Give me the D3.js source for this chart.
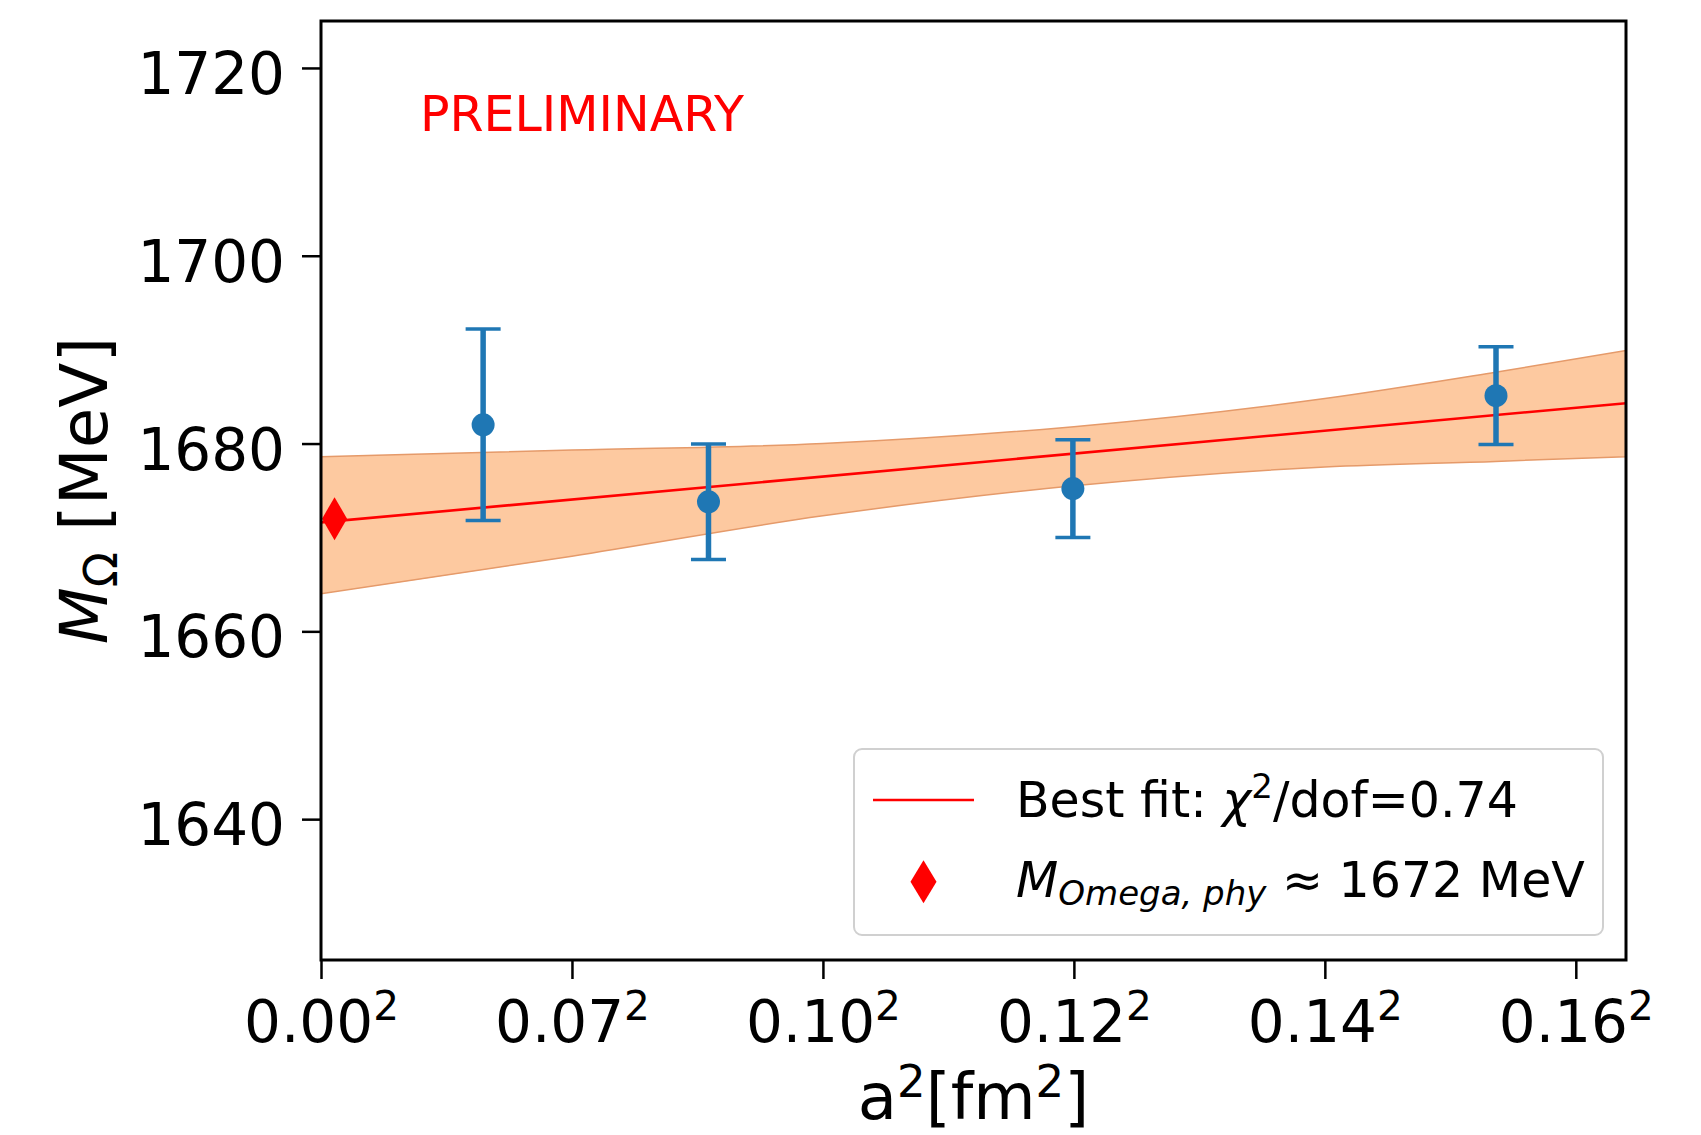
<!doctype html>
<html>
<head>
<meta charset="UTF-8">
<script src="https://cdnjs.cloudflare.com/ajax/libs/d3/7.8.5/d3.min.js"></script>
<style>
  body { margin: 0; background: #fff; }
  text { font-family: 'DejaVu Sans', sans-serif; }
</style>
</head>
<body>
<svg id="chart" width="1701" height="1135"></svg>
<script>

// lattice points: a^2 [fm^2], mass [MeV], error
var a2 = [0.00323, 0.00772, 0.01498, 0.02341];
var mass = [1682.0, 1673.8, 1675.2, 1685.1];
var massErr = [10.2, 6.15, 5.2, 5.2];

// best fit line (end points)
var fitA2 = [0, 0.026];
var fitMass = [1671.6, 1684.3];

// fit error band, read at a few a^2 values
var bandA2 = [0, 0.005, 0.010, 0.015, 0.020, 0.0234, 0.026];
var bandLow = [1664.0, 1668.0, 1672.3, 1675.5, 1677.5, 1678.1, 1678.6];
var bandHigh = [1678.6, 1679.3, 1680.0, 1681.8, 1684.8, 1687.6, 1689.9];

// physical point
var physA2 = [0.00027];
var physMass = [1672];

// ticks
var yTicks = [1640, 1660, 1680, 1700, 1720];
var xTicks = [0, 0.005, 0.010, 0.015, 0.020, 0.025];
var xTickLabels = ["0.00", "0.07", "0.10", "0.12", "0.14", "0.16"];

var plot = { left: 321, right: 1626, top: 21, bottom: 960 };

var svg = d3.select("#chart");

var x = d3.scaleLinear().domain([0, 0.026]).range([plot.left, plot.right]);
var y = d3.scaleLinear().domain([1625, 1725]).range([plot.bottom, plot.top]);

svg.append("clipPath").attr("id", "clip")
  .append("rect")
  .attr("x", plot.left).attr("y", plot.top)
  .attr("width", plot.right - plot.left).attr("height", plot.bottom - plot.top);

var g = svg.append("g").attr("clip-path", "url(#clip)");

// band
var area = d3.area()
  .x((d, i) => x(bandA2[i]))
  .y0((d, i) => y(bandLow[i]))
  .y1((d, i) => y(bandHigh[i]))
  .curve(d3.curveMonotoneX);

g.append("path")
  .datum(bandA2)
  .attr("d", area)
  .attr("fill", "#fdc9a0")
  .attr("stroke", "#e59a6a")
  .attr("stroke-width", 1.5);

// fit line
var line = d3.line()
  .x((d, i) => x(fitA2[i]))
  .y((d, i) => y(fitMass[i]));

g.append("path")
  .datum(fitA2)
  .attr("d", line)
  .attr("fill", "none")
  .attr("stroke", "#ff0000")
  .attr("stroke-width", 2.6);

// error bars
var pts = g.append("g").selectAll("g")
  .data(a2)
  .enter()
  .append("g");

pts.append("line")
  .attr("x1", (d) => x(d)).attr("x2", (d) => x(d))
  .attr("y1", (d, i) => y(mass[i] - massErr[i]))
  .attr("y2", (d, i) => y(mass[i] + massErr[i]))
  .attr("stroke", "#1f77b4").attr("stroke-width", 5.5);

[-1, 1].forEach(function(s) {
  pts.append("line")
    .attr("x1", (d) => x(d) - 17.5).attr("x2", (d) => x(d) + 17.5)
    .attr("y1", (d, i) => y(mass[i] + s * massErr[i]))
    .attr("y2", (d, i) => y(mass[i] + s * massErr[i]))
    .attr("stroke", "#1f77b4").attr("stroke-width", 3.5);
});

pts.append("circle")
  .attr("cx", (d) => x(d))
  .attr("cy", (d, i) => y(mass[i]))
  .attr("r", 11.5)
  .attr("fill", "#1f77b4");

// thin diamond marker
function diamond(cx, cy, hw, hh) {
  return "M" + cx + "," + (cy - hh) + "L" + (cx + hw) + "," + cy +
    "L" + cx + "," + (cy + hh) + "L" + (cx - hw) + "," + cy + "Z";
}

svg.append("g").selectAll("path")
  .data(physA2)
  .enter()
  .append("path")
  .attr("d", (d, i) => diamond(x(d), y(physMass[i]), 12.5, 21.5))
  .attr("fill", "#ff0000");

// axes
var xAxis = svg.append("g")
  .attr("transform", "translate(0," + plot.bottom + ")")
  .call(d3.axisBottom(x).tickValues(xTicks).tickSize(19).tickFormat((d, i) => xTickLabels[i]));

xAxis.select(".domain").remove();
xAxis.selectAll(".tick line").attr("stroke", "#000").attr("stroke-width", 2.5);
xAxis.selectAll(".tick text")
  .attr("y", 81.7).attr("dy", 0)
  .attr("fill", "#000")
  .style("font-size", "58px")
  .each(function(d, i) {
    var t = d3.select(this);
    t.text(null);
    t.append("tspan").text(xTickLabels[i]);
    t.append("tspan").attr("dy", -22).style("font-size", "40.6px").text("2");
  });

var yAxis = svg.append("g")
  .attr("transform", "translate(" + plot.left + ",0)")
  .call(d3.axisLeft(y).tickValues(yTicks).tickSize(19).tickPadding(17).tickFormat(d3.format("d")));

yAxis.select(".domain").remove();
yAxis.selectAll(".tick line").attr("stroke", "#000").attr("stroke-width", 2.5);
yAxis.selectAll(".tick text")
  .attr("dy", "0.44em")
  .attr("fill", "#000")
  .style("font-size", "58px");

// frame
svg.append("rect")
  .attr("x", plot.left).attr("y", plot.top)
  .attr("width", plot.right - plot.left).attr("height", plot.bottom - plot.top)
  .attr("fill", "none").attr("stroke", "#000").attr("stroke-width", 3);

// y label
var yl = svg.append("text")
  .attr("transform", "translate(107," + ((plot.top + plot.bottom) / 2) + ") rotate(-90)")
  .attr("text-anchor", "middle")
  .style("font-size", "66px");
yl.append("tspan").style("font-style", "italic").text("M");
yl.append("tspan").attr("dy", 10).style("font-size", "46px").text("Ω");
yl.append("tspan").attr("dy", -10).text(" [MeV]");

// x label
var xl = svg.append("text")
  .attr("x", (plot.left + plot.right) / 2)
  .attr("y", 1119)
  .attr("text-anchor", "middle")
  .style("font-size", "64px");
xl.append("tspan").text("a");
xl.append("tspan").attr("dy", -22).style("font-size", "45px").text("2");
xl.append("tspan").attr("dy", 22).text("[fm");
xl.append("tspan").attr("dy", -22).style("font-size", "45px").text("2");
xl.append("tspan").attr("dy", 22).text("]");

// preliminary mark
svg.append("text")
  .attr("x", 420).attr("y", 131)
  .attr("fill", "#ff0000")
  .style("font-size", "49px")
  .text("PRELIMINARY");

// legend
var leg = svg.append("g");
leg.append("rect")
  .attr("x", 854).attr("y", 749).attr("width", 749).attr("height", 186)
  .attr("rx", 8)
  .attr("fill", "#fff").attr("fill-opacity", 0.8)
  .attr("stroke", "#d0d0d0").attr("stroke-width", 2);

leg.append("line")
  .attr("x1", 873).attr("x2", 974).attr("y1", 800).attr("y2", 800)
  .attr("stroke", "#ff0000").attr("stroke-width", 2.6);

leg.append("path")
  .attr("d", diamond(923.5, 881.7, 13, 21.5))
  .attr("fill", "#ff0000");

var t1 = leg.append("text").attr("x", 1016).attr("y", 816.7).style("font-size", "49px");
t1.append("tspan").text("Best fit: ");
t1.append("tspan").style("font-style", "italic").text("χ");
t1.append("tspan").attr("dy", -19).style("font-size", "34px").text("2");
t1.append("tspan").attr("dy", 19).text("/dof=0.74");

var t2 = leg.append("text").attr("x", 1016).attr("y", 896.7).style("font-size", "49px");
t2.append("tspan").style("font-style", "italic").text("M");
t2.append("tspan").attr("dy", 8).style("font-size", "34px").style("font-style", "italic").text("Omega, phy");
t2.append("tspan").attr("dy", -8).text(" ≈ 1672 MeV");

</script>
</body>
</html>
